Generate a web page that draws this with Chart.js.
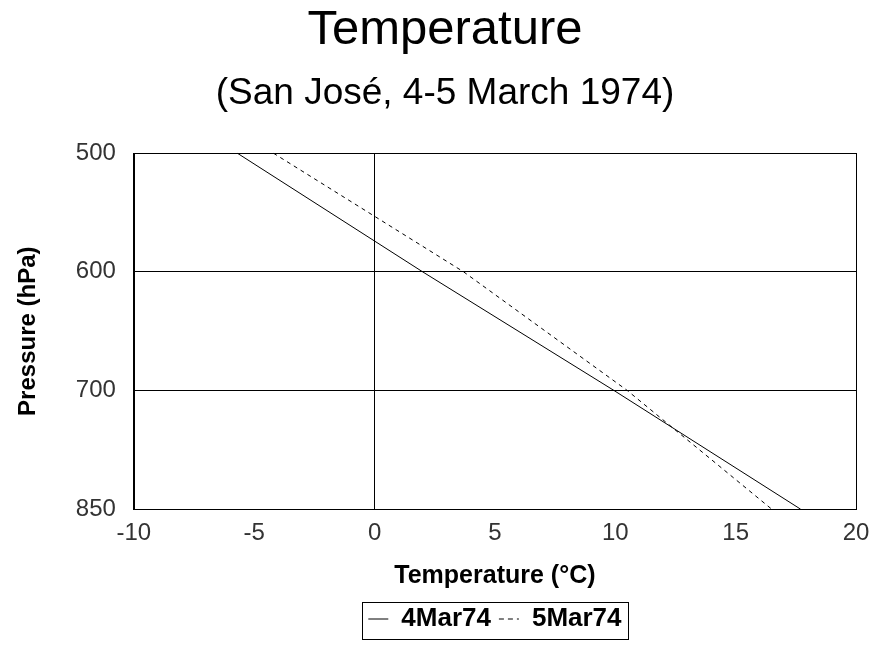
<!DOCTYPE html>
<html>
<head>
<meta charset="utf-8">
<script src="https://cdn.jsdelivr.net/npm/chart.js@4/dist/chart.umd.min.js"></script>
<style>
  body { margin: 0; background: #fff; }
  #wrap { width: 875px; height: 646px; }
</style>
</head>
<body>
<div id="wrap"><canvas id="tempChart" width="875" height="646"></canvas></div>
<script>
var pressures = ['500', '600', '700', '850'];
var mar4 = [-5.7, 2.0, 9.95, 17.7];
var mar5 = [-4.2, 3.7, 10.5, 16.5];
var xTicks = [-10, -5, 0, 5, 10, 15, 20];

var font = "'Liberation Sans', Arial, sans-serif";
Chart.defaults.font.family = font;
Chart.defaults.color = '#000';

// frame round the plot area and a box round the legend
var framePlugin = {
  id: 'frame',
  afterDraw: function(chart) {
    var c = chart.ctx, a = chart.chartArea, lg = chart.legend;
    c.save();
    c.strokeStyle = '#000';
    c.lineWidth = 1;
    c.setLineDash([]);
    c.strokeRect(Math.round(a.left) + 0.5, Math.round(a.top) + 0.5, Math.round(a.right - a.left), Math.round(a.bottom - a.top));
    var w = 266, h = 37;
    var lx = Math.round((lg.left + lg.right) / 2 - w / 2) + 0.5;
    var ly = Math.round((lg.top + lg.bottom) / 2 - h / 2) + 0.5;
    c.strokeRect(lx, ly, w, h);
    c.restore();
  }
};

var ctx = document.getElementById('tempChart').getContext('2d');
var chart = new Chart(ctx, {
  type: 'line',
  data: {
    labels: pressures,
    datasets: [
      { label: '4Mar74', data: mar4, borderColor: '#000', borderWidth: 1, pointRadius: 0, tension: 0, fill: false },
      { label: '5Mar74', data: mar5, borderColor: '#000', borderWidth: 1, borderDash: [4, 4], pointRadius: 0, tension: 0, fill: false }
    ]
  },
  plugins: [framePlugin],
  options: {
    responsive: false,
    animation: false,
    indexAxis: 'y',
    layout: { padding: { left: 34, right: 19, top: 0, bottom: 4 } },
    plugins: {
      title: { display: true, text: 'Temperature', font: { size: 49, weight: 'normal' }, color: '#000', padding: { top: 1, bottom: 12 } },
      subtitle: { display: true, text: '(San José, 4-5 March 1974)', font: { size: 37, weight: 'normal' }, color: '#000', padding: { bottom: 37 } },
      legend: {
        position: 'bottom',
        fullSize: false,
        labels: {
          usePointStyle: true,
          pointStyle: 'line',
          pointStyleWidth: 20,
          boxHeight: 10,
          padding: 8,
          color: '#000',
          font: { size: 26, weight: 'bold' },
          generateLabels: function(ch) {
            return ch.data.datasets.map(function(ds, i) {
              return { text: ds.label, strokeStyle: '#000', fillStyle: '#000', lineWidth: 1, lineDash: ds.borderDash ? [5, 4] : [], pointStyle: 'line', datasetIndex: i };
            });
          }
        }
      },
      tooltip: { enabled: false }
    },
    scales: {
      x: {
        type: 'linear',
        min: -10, max: 20,
        afterBuildTicks: function(s) { s.ticks = xTicks.map(function(v) { return { value: v }; }); },
        afterFit: function(s) { s.paddingRight = 0; },
        grid: { color: function(c) { return c.tick && c.tick.value === 0 ? '#000' : 'rgba(0,0,0,0)'; }, drawTicks: false },
        border: { display: true, color: '#000' },
        ticks: { padding: 10, font: { size: 24 }, color: '#333' },
        title: { display: true, text: 'Temperature (°C)', font: { size: 25, weight: 'bold' }, padding: { top: 3, bottom: 7 } }
      },
      y: {
        type: 'category',
        offset: false,
        grid: { color: '#000', drawTicks: false },
        border: { display: true, color: '#000' },
        ticks: { padding: 18, font: { size: 24 }, color: '#333' },
        title: { display: true, text: 'Pressure (hPa)', font: { size: 24, weight: 'bold' }, padding: { top: -20, bottom: 15 } }
      }
    }
  }
});
</script>
</body>
</html>
